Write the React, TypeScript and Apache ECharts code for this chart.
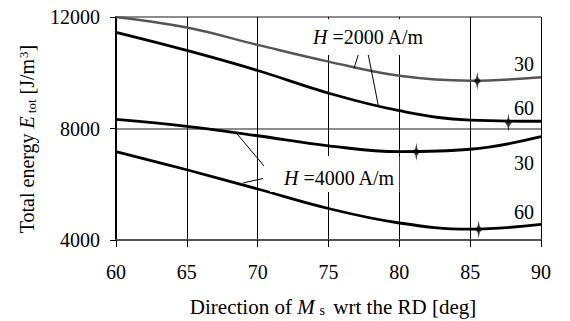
import { useEffect, useRef } from "react";
import * as echarts from "echarts";

const xTicks = [60, 65, 70, 75, 80, 85, 90];
const yTicks = [4000, 8000, 12000];

const h2000deg30 = [[60, 12000], [65, 11620], [70, 11000], [75, 10400], [80, 9890], [85, 9715], [90, 9835]];
const h2000deg60 = [[60, 11450], [65, 10800], [70, 10080], [75, 9270], [80, 8640], [85, 8300], [90, 8260]];
const h4000deg30 = [[60, 8330], [65, 8080], [70, 7740], [75, 7380], [80, 7170], [85, 7255], [90, 7705]];
const h4000deg60 = [[60, 7170], [65, 6520], [70, 5830], [75, 5130], [80, 4610], [85, 4390], [90, 4560]];

const minima = [[85.5, 9708], [87.7, 8215], [81.2, 7162], [85.6, 4385]];

const curveLabels = [
  { text: "30", at: [89.5, 10325] },
  { text: "60", at: [89.5, 8747] },
  { text: "30", at: [89.5, 6774] },
  { text: "60", at: [89.5, 5016] },
];

const fieldLabels = [
  { text: "{i|H} =2000 A/m", at: [73.62, 11282], padding: [8, 4, 8, 4] },
  { text: "{i|H} =4000 A/m", at: [70.87, 6368], padding: [12, 4, 4, 14] },
];

const leaders = [
  [[77.1, 10637], [76.8, 10160]],
  [[77.81, 10637], [78.51, 8843]],
  [[68.51, 7828], [70.45, 6655]],
  [[68.96, 6045], [70.38, 6206]],
];

const FONT = "'Liberation Serif', 'Times New Roman', serif";

export default function App() {
  const ref = useRef<HTMLDivElement>(null);
  useEffect(() => {
    const chart = echarts.init(ref.current!, null, { renderer: "svg" });
    const lineSeries = (data: number[][], color: string, width: number) => ({
      type: "line",
      data,
      smooth: 0.4,
      showSymbol: false,
      symbol: "none",
      lineStyle: { color, width },
      z: 3,
    });
    chart.setOption({
      animation: false,
      backgroundColor: "#fff",
      textStyle: { fontFamily: FONT },
      grid: { left: 116, right: 29, top: 17, bottom: 81 },
      xAxis: {
        type: "value",
        min: xTicks[0],
        max: xTicks[xTicks.length - 1],
        interval: 5,
        axisLine: { show: true, onZero: false, lineStyle: { color: "#555", width: 2 } },
        axisTick: { show: true, inside: false, length: 7, lineStyle: { color: "#000", width: 1 } },
        axisLabel: { margin: 22, fontFamily: FONT, fontSize: 20, color: "#000", formatter: (v: number) => String(v) },
        splitLine: { show: true, lineStyle: { color: "#000", width: 1 } },
      },
      yAxis: {
        type: "value",
        min: yTicks[0],
        max: yTicks[yTicks.length - 1],
        interval: 4000,
        axisLine: { show: true, onZero: false, lineStyle: { color: "#000", width: 2 } },
        axisTick: { show: true, inside: false, length: 6, lineStyle: { color: "#000", width: 1 } },
        axisLabel: { margin: 16, fontFamily: FONT, fontSize: 20, color: "#000", formatter: (v: number) => String(v) },
        splitLine: { show: true, lineStyle: { color: "#666", width: 1.6 } },
      },
      series: [
        lineSeries(h2000deg30, "#555", 2.5),
        lineSeries(h2000deg60, "#000", 2.8),
        lineSeries(h4000deg30, "#000", 2.8),
        lineSeries(h4000deg60, "#000", 2.8),
        {
          type: "scatter",
          data: minima,
          symbol: "path://M0,-8 L0.8,-3 L3,0 L0.8,3 L0,8 L-0.8,3 L-3,0 L-0.8,-3 Z",
          symbolSize: [7, 18],
          itemStyle: { color: "#000" },
          z: 4,
        },
      ],
    });

    const px = (p: number[]) => chart.convertToPixel({ gridIndex: 0 }, p) as number[];
    const graphics: any[] = [];
    fieldLabels.forEach((f) => {
      const [x, y] = px(f.at);
      graphics.push({
        type: "text",
        x,
        y,
        z: 10,
        style: {
          text: f.text,
          fontFamily: FONT,
          fontSize: 20,
          fill: "#000",
          align: "left",
          verticalAlign: "middle",
          backgroundColor: "#fff",
          padding: f.padding,
          rich: { i: { fontStyle: "italic", fontFamily: FONT, fontSize: 20 } },
        },
      });
    });
    leaders.forEach((l) => {
      const [x1, y1] = px(l[0]);
      const [x2, y2] = px(l[1]);
      graphics.push({
        type: "line",
        z: 11,
        shape: { x1, y1, x2, y2 },
        style: { stroke: "#000", lineWidth: 1 },
      });
    });
    curveLabels.forEach((c) => {
      const [x, y] = px(c.at);
      graphics.push({
        type: "text",
        x,
        y,
        z: 10,
        style: {
          text: c.text,
          fontFamily: FONT,
          fontSize: 20,
          fill: "#000",
          align: "right",
          verticalAlign: "middle",
        },
      });
    });
    graphics.push({
      type: "text",
      x: 27,
      y: 139,
      rotation: Math.PI / 2,
      z: 10,
      style: {
        text: "Total energy {i|E}{sub|tot} [J/m{sup|3}]",
        fontFamily: FONT,
        fontSize: 20,
        fill: "#000",
        align: "center",
        verticalAlign: "middle",
        rich: {
          i: { fontStyle: "italic", fontFamily: FONT, fontSize: 20 },
          sub: { fontFamily: FONT, fontSize: 13, verticalAlign: "bottom", padding: [6, 0, 0, 3] },
          sup: { fontFamily: FONT, fontSize: 13, verticalAlign: "top", padding: [0, 0, 8, 1] },
        },
      },
    });
    graphics.push({
      type: "text",
      x: 333,
      y: 307,
      z: 10,
      style: {
        text: "Direction of {i|M}{sub|s} wrt the RD [deg]",
        fontFamily: FONT,
        fontSize: 21,
        fill: "#000",
        align: "center",
        verticalAlign: "middle",
        rich: {
          i: { fontStyle: "italic", fontFamily: FONT, fontSize: 21 },
          sub: { fontFamily: FONT, fontSize: 14, verticalAlign: "bottom", padding: [6, 3, 0, 5] },
        },
      },
    });
    chart.setOption({ graphic: graphics });
    return () => chart.dispose();
  }, []);
  return (
    <div
      ref={ref}
      style={{ position: "fixed", left: 0, top: 0, width: 570, height: 321 }}
    />
  );
}
